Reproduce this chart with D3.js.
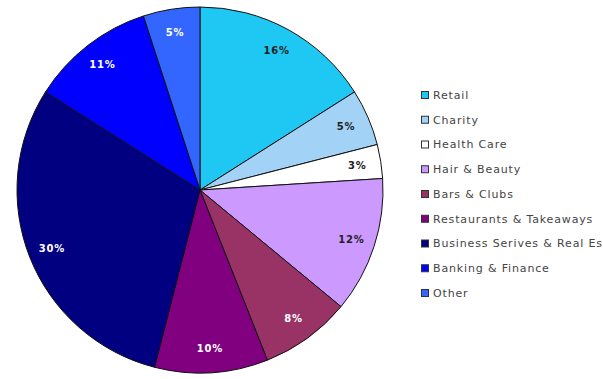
<!DOCTYPE html>
<html><head><meta charset="utf-8">
<script src="https://cdn.jsdelivr.net/npm/d3@7"></script>
<style>body{margin:0;background:#fff;overflow:hidden}</style>
</head><body>
<svg id="c" width="603" height="379"></svg>
<script>
const categories = ["Retail","Charity","Health Care","Hair & Beauty","Bars & Clubs","Restaurants & Takeaways","Business Serives & Real Estate","Banking & Finance","Other"];
const values = [16,5,3,12,8,10,30,11,5];
const colors = ["#1ec8f2","#a3d2f7","#ffffff","#cc99ff","#993366","#800080","#000080","#0000ff","#3366ff"];
const labelColors = ["#222","#222","#222","#222","#fff","#fff","#fff","#fff","#fff"];

const svg = d3.select("#c");
const cx = 200, cy = 190, R = 183;
const pie = d3.pie().sort(null).value(d=>d)(values);
const arc = d3.arc().innerRadius(0).outerRadius(R);
const labArc = d3.arc().innerRadius(R*0.87).outerRadius(R*0.87);
const g = svg.append("g").attr("transform",`translate(${cx},${cy})`);
g.selectAll("path").data(pie).join("path")
  .attr("d",arc).attr("fill",(d,i)=>colors[i]).attr("stroke","#111").attr("stroke-width",1);
g.selectAll("text").data(pie).join("text")
  .attr("transform",d=>`translate(${labArc.centroid(d)})`)
  .attr("text-anchor","middle").attr("dy","0.35em")
  .attr("font-family","DejaVu Sans, sans-serif").attr("font-weight","bold").attr("font-size",10)
  .attr("letter-spacing",0.8)
  .attr("fill",(d,i)=>labelColors[i])
  .text(d=>d.data+"%");

const leg = svg.append("g");
const y = d3.scalePoint().domain(categories).range([95,293]);
categories.forEach((c,i)=>{
  leg.append("rect").attr("x",421.5).attr("y",y(c)-3.5).attr("width",7).attr("height",7)
    .attr("fill",colors[i]).attr("stroke","#333").attr("stroke-width",1);
  leg.append("text").attr("x",433).attr("y",y(c)).attr("dy","0.35em")
    .attr("font-family","DejaVu Sans, sans-serif").attr("font-size",11).attr("letter-spacing",0.85).attr("fill","#444")
    .text(c);
});
</script>
</body></html>
